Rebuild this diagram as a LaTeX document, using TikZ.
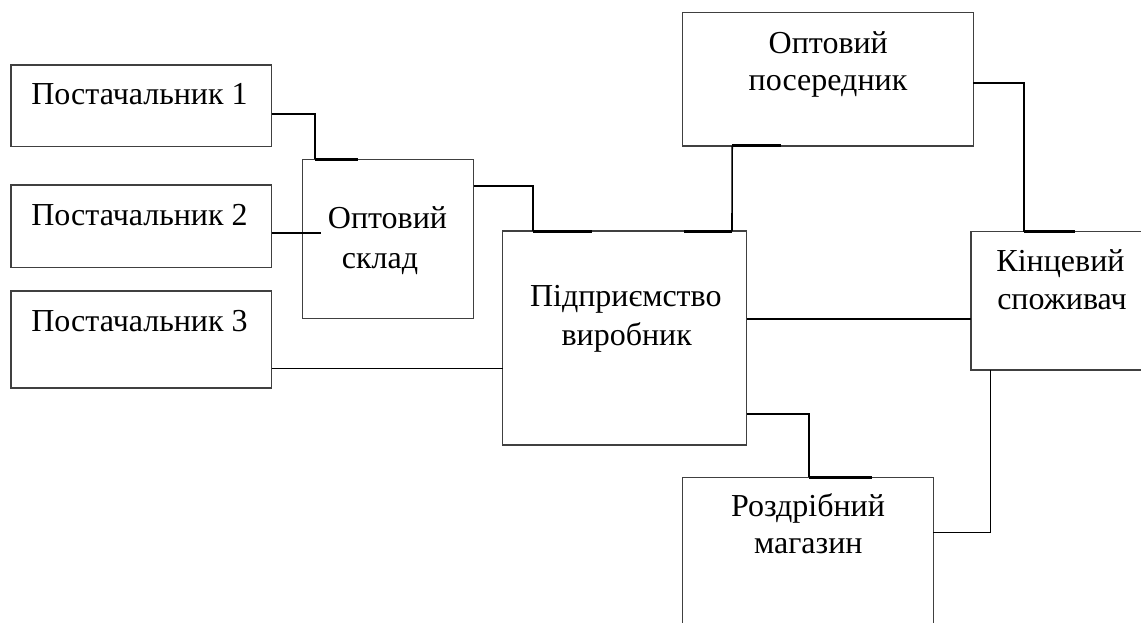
\documentclass[tikz,border=0pt]{standalone}
\usepackage{fontspec}
\setmainfont{Liberation Serif}
\usetikzlibrary{calc}

\tikzset{
  box/.style={draw=black!75, line width=1.1pt, rectangle, inner sep=0pt, outer sep=0pt, anchor=north west},
  lbl/.style={anchor=base, inner sep=0pt, font=\fontsize{32}{38}\selectfont},
  conn/.style={draw=black, line width=1.6pt},
  joint/.style={draw=black, line width=3pt},
}

\begin{document}
\begin{tikzpicture}[x=1pt, y=-1pt]
  \useasboundingbox (0,0) rectangle (1141,623);
  \clip (0,0) rectangle (1141,623);

  % boxes
  \node[box, minimum width=260.5pt, minimum height=81.5pt] (p1) at (11,65) {};
  \node[box, minimum width=260.5pt, minimum height=82.5pt] (p2) at (11,185) {};
  \node[box, minimum width=260.5pt, minimum height=97pt] (p3) at (11,291) {};
  \node[box, minimum width=171pt, minimum height=159.5pt] (sk) at (302.5,159.3) {};
  \node[box, minimum width=244pt, minimum height=214pt] (vyr) at (502.7,231) {};
  \node[box, minimum width=290.6pt, minimum height=133.3pt] (pos) at (682.7,12.7) {};
  \node[box, minimum width=190pt, minimum height=138.3pt] (kin) at (971,231.7) {};
  \node[box, minimum width=250.6pt, minimum height=180pt] (mag) at (682.7,477.3) {};

  % labels
  \node[lbl] (p1t) at (139.5,105) {Постачальник 1};
  \node[lbl] (p2t) at (139.5,225) {Постачальник 2};
  \node[lbl] (p3t) at (139.5,331) {Постачальник 3};
  \node[lbl] (skt1) at (387.5,228.3) {Оптовий};
  \node[lbl] (skt2) at (380,268.3) {склад};
  \node[lbl] (vyrt1) at (625.8,306.7) {Підприємство};
  \node[lbl] (vyrt2) at (626.7,345) {виробник};
  \node[lbl] (post1) at (828.3,53.3) {Оптовий};
  \node[lbl] (post2) at (828,90.7) {посередник};
  \node[lbl] (kint1) at (1060.5,271.7) {Кінцевий};
  \node[lbl] (kint2) at (1062,309.3) {споживач};
  \node[lbl] (magt1) at (808,516.7) {Роздрібний};
  \node[lbl] (magt2) at (808.3,553) {магазин};

  % supplier 1 -> warehouse
  \coordinate (a1) at ($(sk.north west)+(12.5,0)$);
  \draw[conn] ($(p1.north east)!0.6!(p1.south east)$) -| (a1);
  \draw[joint] (a1) -- ++(43,0);

  % supplier 2 -> warehouse
  \coordinate (s2) at ($(p2.north east)!0.58!(p2.south east)$);
  \coordinate (e2) at ($(sk.west)+(18,0)$);
  \draw[conn] (s2) -- (s2 -| e2);

  % supplier 3 -> producer
  \coordinate (s3) at ($(p3.north east)!0.8!(p3.south east)$);
  \draw[conn] (s3) -- (s3 -| vyr.west);

  % warehouse -> producer
  \coordinate (a4) at ($(vyr.north west)+(30,0)$);
  \draw[conn] ($(sk.north east)!0.167!(sk.south east)$) -| (a4);
  \draw[joint] (a4) -- ++(59,0);

  % producer -> wholesale intermediary
  \coordinate (a5) at ($(vyr.north west)+(229.3,0)$);
  \coordinate (b5) at ($(pos.south west)+(49.5,0)$);
  \draw[joint] (a5) -- ++(-48,0);
  \draw[conn] (a5) -- (b5);
  \draw[joint] (b5) -- ++(49,0);

  % wholesale intermediary -> end consumer
  \coordinate (a6) at ($(kin.north west)+(53,0)$);
  \draw[conn] ($(pos.north east)!0.527!(pos.south east)$) -| (a6);
  \draw[joint] (a6) -- ++(51,0);

  % producer -> end consumer
  \coordinate (s7) at ($(vyr.north east)!0.41!(vyr.south east)$);
  \draw[conn] (s7) -- (s7 -| kin.west);

  % producer -> retail shop
  \coordinate (a8) at ($(mag.north west)+(126.5,0)$);
  \draw[conn] ($(vyr.north east)!0.855!(vyr.south east)$) -| (a8);
  \draw[joint] (a8) -- ++(63,0);

  % end consumer -> retail shop
  \coordinate (a9) at ($(kin.south west)+(19.5,0)$);
  \coordinate (b9) at ($(mag.north east)+(0,55)$);
  \draw[conn] (a9) |- (b9);
\end{tikzpicture}
\end{document}
